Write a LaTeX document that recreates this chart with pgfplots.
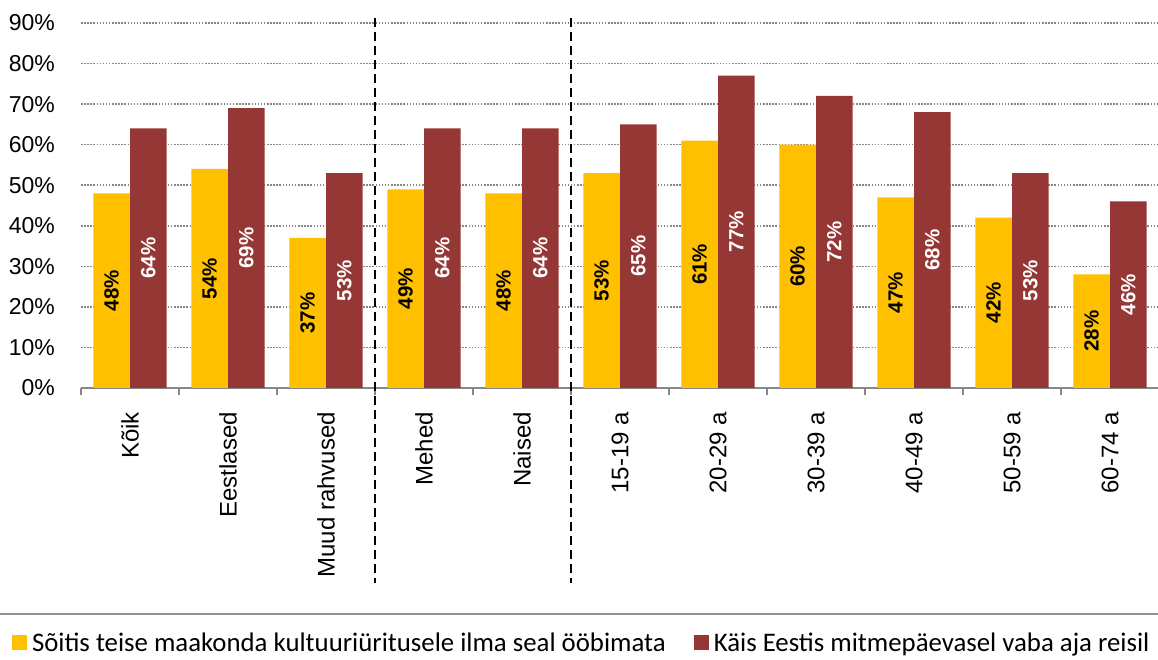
\documentclass[border=0pt]{standalone}
\usepackage{pgfplots}
\pgfplotsset{compat=1.18}
\usepackage{fontspec}
\setmainfont{Liberation Sans}
\newfontfamily\legendfont{Carlito}
\definecolor{cyel}{HTML}{FFC000}
\definecolor{cred}{HTML}{953735}
\definecolor{axgray}{HTML}{868686}
\begin{document}
\begin{tikzpicture}[x=1pt,y=1pt]
\path[use as bounding box] (0,0) rectangle (1158,660);
\begin{axis}[
  at={(81pt,272pt)}, anchor=south west,
  scale only axis, width=1078pt, height=365pt,
  xmin=-0.5, xmax=10.5, ymin=0, ymax=90,
  clip=false,
  ybar=0pt, bar width=36.7pt,
  axis x line*=bottom, axis y line*=left,
  x axis line style={axgray, line width=1.8pt, -},
  y axis line style={draw=none},
  xtick={0,...,10},
  xticklabels={Kõik, Eestlased, Muud rahvused, Mehed, Naised, 15-19 a, 20-29 a, 30-39 a, 40-49 a, 50-59 a, 60-74 a},
  minor xtick={-0.5,0.5,...,10.5},
  major tick length=0pt,
  minor tick length=7pt,
  tick align=outside,
  minor x tick style={axgray, line width=1.8pt},
  ytick={0,10,...,90},
  ytick style={draw=none},
  /pgf/number format/assume math mode=true,
  yticklabel={\pgfmathprintnumber{\tick}\%},
  yticklabel style={anchor=east, inner sep=0pt, xshift=-26pt, font=\fontsize{23}{27}\selectfont},
  xticklabel style={yshift=-24pt, rotate=90, anchor=east, inner sep=0pt, font=\fontsize{24}{28}\selectfont},
  ymajorgrids=true,
  major y grid style={axgray, line width=1.5pt, dash pattern=on 1.5pt off 1.6pt},
  visualization depends on=rawy \as \rawy,
  nodes near coords={\pgfmathprintnumber{\pgfplotspointmeta}\%},
  every node near coord/.append style={shift={(axis direction cs:0,-\rawy/2)}, rotate=90, anchor=center, inner sep=0pt, font=\bfseries\fontsize{20.5}{24}\selectfont},
  legend columns=2,
  legend style={at={(axis description cs:-0.0640,-0.6986)}, anchor=west, draw=none, fill=none, inner sep=0pt, outer sep=0pt,
    nodes={inner sep=0pt}, font=\legendfont\fontsize{26.8}{30}\selectfont,
    /tikz/every odd column/.append style={column sep=5pt},
    /tikz/every even column/.append style={column sep=28pt}},
]
\addplot[fill=cyel, draw=none, every node near coord/.append style={text=black},
  legend image code/.code={\fill[cyel] (0pt,-7.5pt) rectangle (15pt,7.5pt);}]
  coordinates {(0,48) (1,54) (2,37) (3,49) (4,48) (5,53) (6,61) (7,60) (8,47) (9,42) (10,28)};
\addplot[fill=cred, draw=none, every node near coord/.append style={text=white},
  legend image code/.code={\fill[cred] (0pt,-7.5pt) rectangle (15pt,7.5pt);}]
  coordinates {(0,64) (1,69) (2,53) (3,64) (4,64) (5,65) (6,77) (7,72) (8,68) (9,53) (10,46)};
\legend{Sõitis teise maakonda kultuuriüritusele ilma seal ööbimata, Käis Eestis mitmepäevasel vaba aja reisil}
\draw[black, line width=2pt, dash pattern=on 9pt off 5pt] (axis cs:2.5,91.2) -- (axis cs:2.5,-48.1);
\draw[black, line width=2pt, dash pattern=on 9pt off 5pt] (axis cs:4.5,91.2) -- (axis cs:4.5,-48.1);
\end{axis}
\draw[color=axgray!90, line width=2pt] (0,46) -- (1158,46);
\end{tikzpicture}
\end{document}
